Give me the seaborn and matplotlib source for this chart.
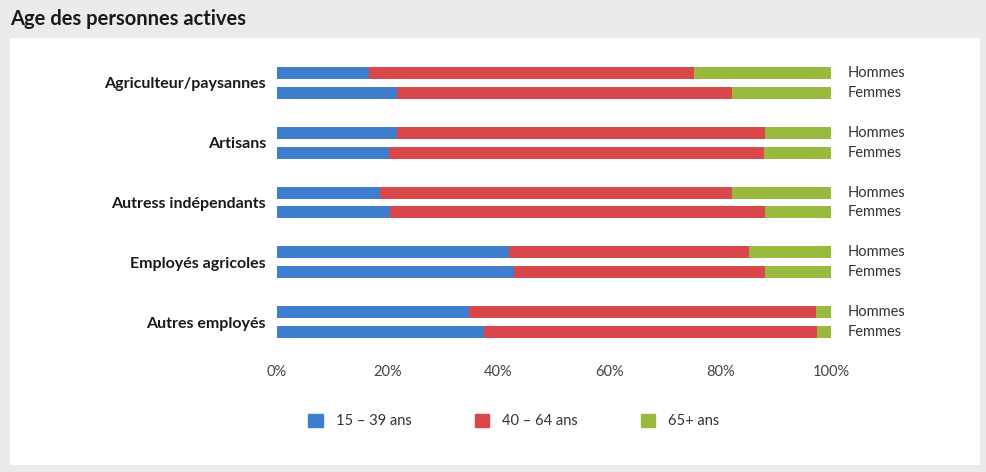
import matplotlib
matplotlib.use("Agg")
import matplotlib.pyplot as plt
import matplotlib.patches as mpatches
from matplotlib.transforms import blended_transform_factory
import seaborn as sns
import pandas as pd
import numpy as np

categories = ["Agriculteur/paysannes", "Artisans", "Autress indépendants",
              "Employés agricoles", "Autres employés"]
sexes = ["Hommes", "Femmes"]
series = ["15 – 39 ans", "40 – 64 ans", "65+ ans"]

young_h = [16.6, 21.7, 18.6, 41.9, 34.6]
mid_h = [58.7, 66.4, 63.5, 43.3, 62.7]
old_h = [24.7, 11.9, 17.9, 14.8, 2.7]
young_f = [21.7, 20.2, 20.4, 42.7, 37.4]
mid_f = [60.4, 67.7, 67.7, 45.4, 60.1]
old_f = [17.9, 12.1, 11.9, 11.9, 2.5]

xticks = [0, 20, 40, 60, 80, 100]
xticklabels = ["0%", "20%", "40%", "60%", "80%", "100%"]

colors = ["#3f7ecf", "#d9474a", "#99b93f"]

rows = []
for i, c in enumerate(categories):
    for s, (y, m, o) in zip(sexes, [(young_h[i], mid_h[i], old_h[i]),
                                    (young_f[i], mid_f[i], old_f[i])]):
        rows.append({"cat": c, "sexe": s, "c1": y, "c2": y + m, "c3": y + m + o})
df = pd.DataFrame(rows)

sns.set_theme(style="white")
plt.rcParams["font.family"] = ["Lato", "DejaVu Sans"]

fig = plt.figure(figsize=(9.87, 4.72), dpi=100)
fig.patch.set_facecolor("#ebebeb")
fig.patches.append(mpatches.Rectangle((10 / 987, 7 / 472), 970 / 987, 427 / 472,
                                      transform=fig.transFigure, facecolor="white",
                                      edgecolor="none", zorder=-10))

ax = fig.add_axes([277 / 987, 120 / 472, 554 / 987, 299 / 472])
ax.set_facecolor("none")
ax.set_zorder(2)

for col, color in zip(["c3", "c2", "c1"], colors[::-1]):
    sns.barplot(data=df, y="cat", x=col, hue="sexe", hue_order=sexes,
                order=categories, orient="h", palette=[color, color],
                width=0.667, gap=0.4, dodge=True, legend=False, ax=ax,
                saturation=1, linewidth=0)

ax.set_xlim(0, 100)
ax.set_ylim(4.5, -0.5)
ax.set_xlabel("")
ax.set_ylabel("")
ax.set_xticks(xticks)
ax.set_xticklabels(xticklabels, fontsize=10.5, color="#444444")
ax.tick_params(axis="x", length=0, pad=9)
ax.tick_params(axis="y", length=0, pad=8)
for lab in ax.get_yticklabels():
    lab.set_fontweight("bold")
    lab.set_fontsize(11.5)
    lab.set_color("#1a1a1a")
for sp in ax.spines.values():
    sp.set_visible(False)

trans = blended_transform_factory(ax.transAxes, ax.transData)
for i in range(len(categories)):
    ax.text(1.03, i - 0.167, sexes[0], transform=trans, va="center", ha="left",
            fontsize=10.5, color="#333333")
    ax.text(1.03, i + 0.167, sexes[1], transform=trans, va="center", ha="left",
            fontsize=10.5, color="#333333")

fig.text(10 / 987, 1 - 19 / 472, "Age des personnes actives", fontsize=14.5,
         fontweight="bold", va="center", ha="left", color="#1a1a1a")

handles = [mpatches.Patch(color=c, label=l) for c, l in zip(colors, series)]
leg = fig.legend(handles=handles, loc="center", bbox_to_anchor=(514 / 987, 1 - 421 / 472),
                 ncol=3, frameon=False, fontsize=10.5, handlelength=1.0, handleheight=1.0,
                 columnspacing=4.3, handletextpad=0.9, labelcolor="#333333")
leg.set_zorder(3)

fig.savefig("out.png", dpi=100, facecolor=fig.get_facecolor())
